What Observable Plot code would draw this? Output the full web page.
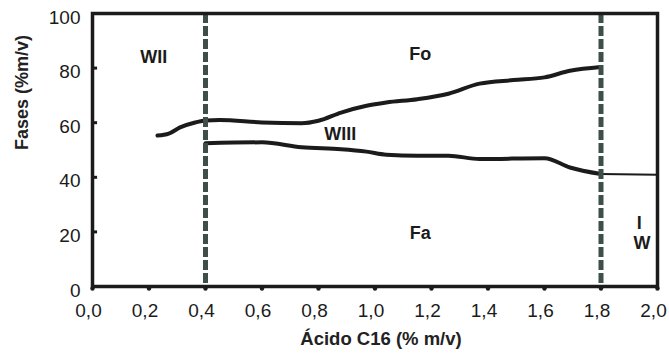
<!DOCTYPE html>
<html>
<head>
<meta charset="utf-8">
<script src="https://cdn.jsdelivr.net/npm/d3@7"></script>
<script src="https://cdn.jsdelivr.net/npm/@observablehq/plot@0.6"></script>
<style>
  html, body { margin: 0; padding: 0; background: #fff; }
  #chart svg { display: block; }
</style>
</head>
<body>
<div id="chart"></div>
<script>
// Upper boundary (Fo / WIII)
const upperX = [0.23, 0.27, 0.31, 0.36, 0.40, 0.45, 0.60, 0.74, 0.80, 0.88, 0.97, 1.04, 1.15, 1.26, 1.37, 1.49, 1.60, 1.69, 1.80];
const upperY = [55.3, 56.0, 58.3, 60.0, 60.8, 61.0, 60.1, 59.8, 60.7, 63.7, 66.2, 67.4, 68.6, 70.6, 74.3, 75.6, 76.6, 79.0, 80.4];
// Lower boundary (WIII / Fa)
const lowerX = [0.40, 0.60, 0.74, 0.88, 0.97, 1.04, 1.15, 1.26, 1.37, 1.60, 1.69, 1.80];
const lowerY = [52.5, 52.8, 51.0, 50.3, 49.4, 48.3, 47.9, 47.9, 46.7, 47.0, 43.6, 41.2];
// Thin tail (Fa / W)
const tailX = [1.80, 2.00];
const tailY = [41.2, 40.9];
// Vertical dashed phase limits
const limits = [0.4, 1.8];
// Region labels
const regionNames = ["WII", "Fo", "WIII", "Fa", "I", "W"];
const regionX = [0.217, 1.16, 0.877, 1.16, 1.935, 1.945];
const regionY = [84.0, 85.0, 55.8, 19.4, 23.0, 15.7];
// Ticks
const xTicks = [0, 0.2, 0.4, 0.6, 0.8, 1.0, 1.2, 1.4, 1.6, 1.8, 2.0];
const yTicks = [0, 20, 40, 60, 80, 100];
const xTitle = "Ácido C16 (% m/v)";
const yTitle = "Fases (%m/v)";

const pts = (xs, ys) => xs.map((x, i) => ({x, y: ys[i]}));
const regions = regionNames.map((name, i) => ({name, x: regionX[i], y: regionY[i]}));
const comma = d => d3.format(".1f")(d).replace(".", ",");
const ink = "#1b1b1b";
const font = "Liberation Sans, Arial, Helvetica, sans-serif";

const chart = Plot.plot({
  width: 669,
  height: 356,
  marginLeft: 92,
  marginRight: 12,
  marginTop: 13,
  marginBottom: 70,
  style: {fontFamily: font, fontSize: "19px", color: ink, background: "#fff"},
  x: {domain: [0, 2]},
  y: {domain: [0, 100]},
  marks: [
    Plot.axisX({ticks: xTicks, tickFormat: comma, tickSize: 0, tickPadding: 17, dx: -4, label: null, fontSize: 19}),
    Plot.axisY({ticks: yTicks, tickSize: 0, tickPadding: 12, dy: 4, label: null, fontSize: 19}),
    Plot.ruleY(yTicks.slice(1, -1), {x1: 0, x2: 0.018, stroke: ink, strokeWidth: 3}),
    Plot.dot(xTicks, {x: d => d, y: 0, r: 2.2, dy: 2, fill: ink}),
    Plot.line(pts(upperX, upperY), {x: "x", y: "y", curve: "monotone-x", stroke: ink, strokeWidth: 4}),
    Plot.line(pts(lowerX, lowerY), {x: "x", y: "y", curve: "monotone-x", stroke: ink, strokeWidth: 4}),
    Plot.line(pts(tailX, tailY), {x: "x", y: "y", stroke: ink, strokeWidth: 2}),
    Plot.ruleX(limits, {stroke: "#3e4f49", strokeWidth: 5, strokeDasharray: "10,3"}),
    Plot.frame({stroke: ink, strokeWidth: 3.5}),
    Plot.text(regions, {x: "x", y: "y", text: "name", fontWeight: "bold", fontSize: 18, fill: ink}),
    Plot.text([yTitle], {frameAnchor: "left", rotate: -90, dx: -70, fontWeight: "bold", fontSize: 18, fill: "#222"}),
    Plot.text([xTitle], {frameAnchor: "bottom", dy: 58, dx: 6, fontWeight: "bold", fontSize: 18.5, fill: "#222"})
  ]
});
document.getElementById("chart").appendChild(chart);
</script>
</body>
</html>
